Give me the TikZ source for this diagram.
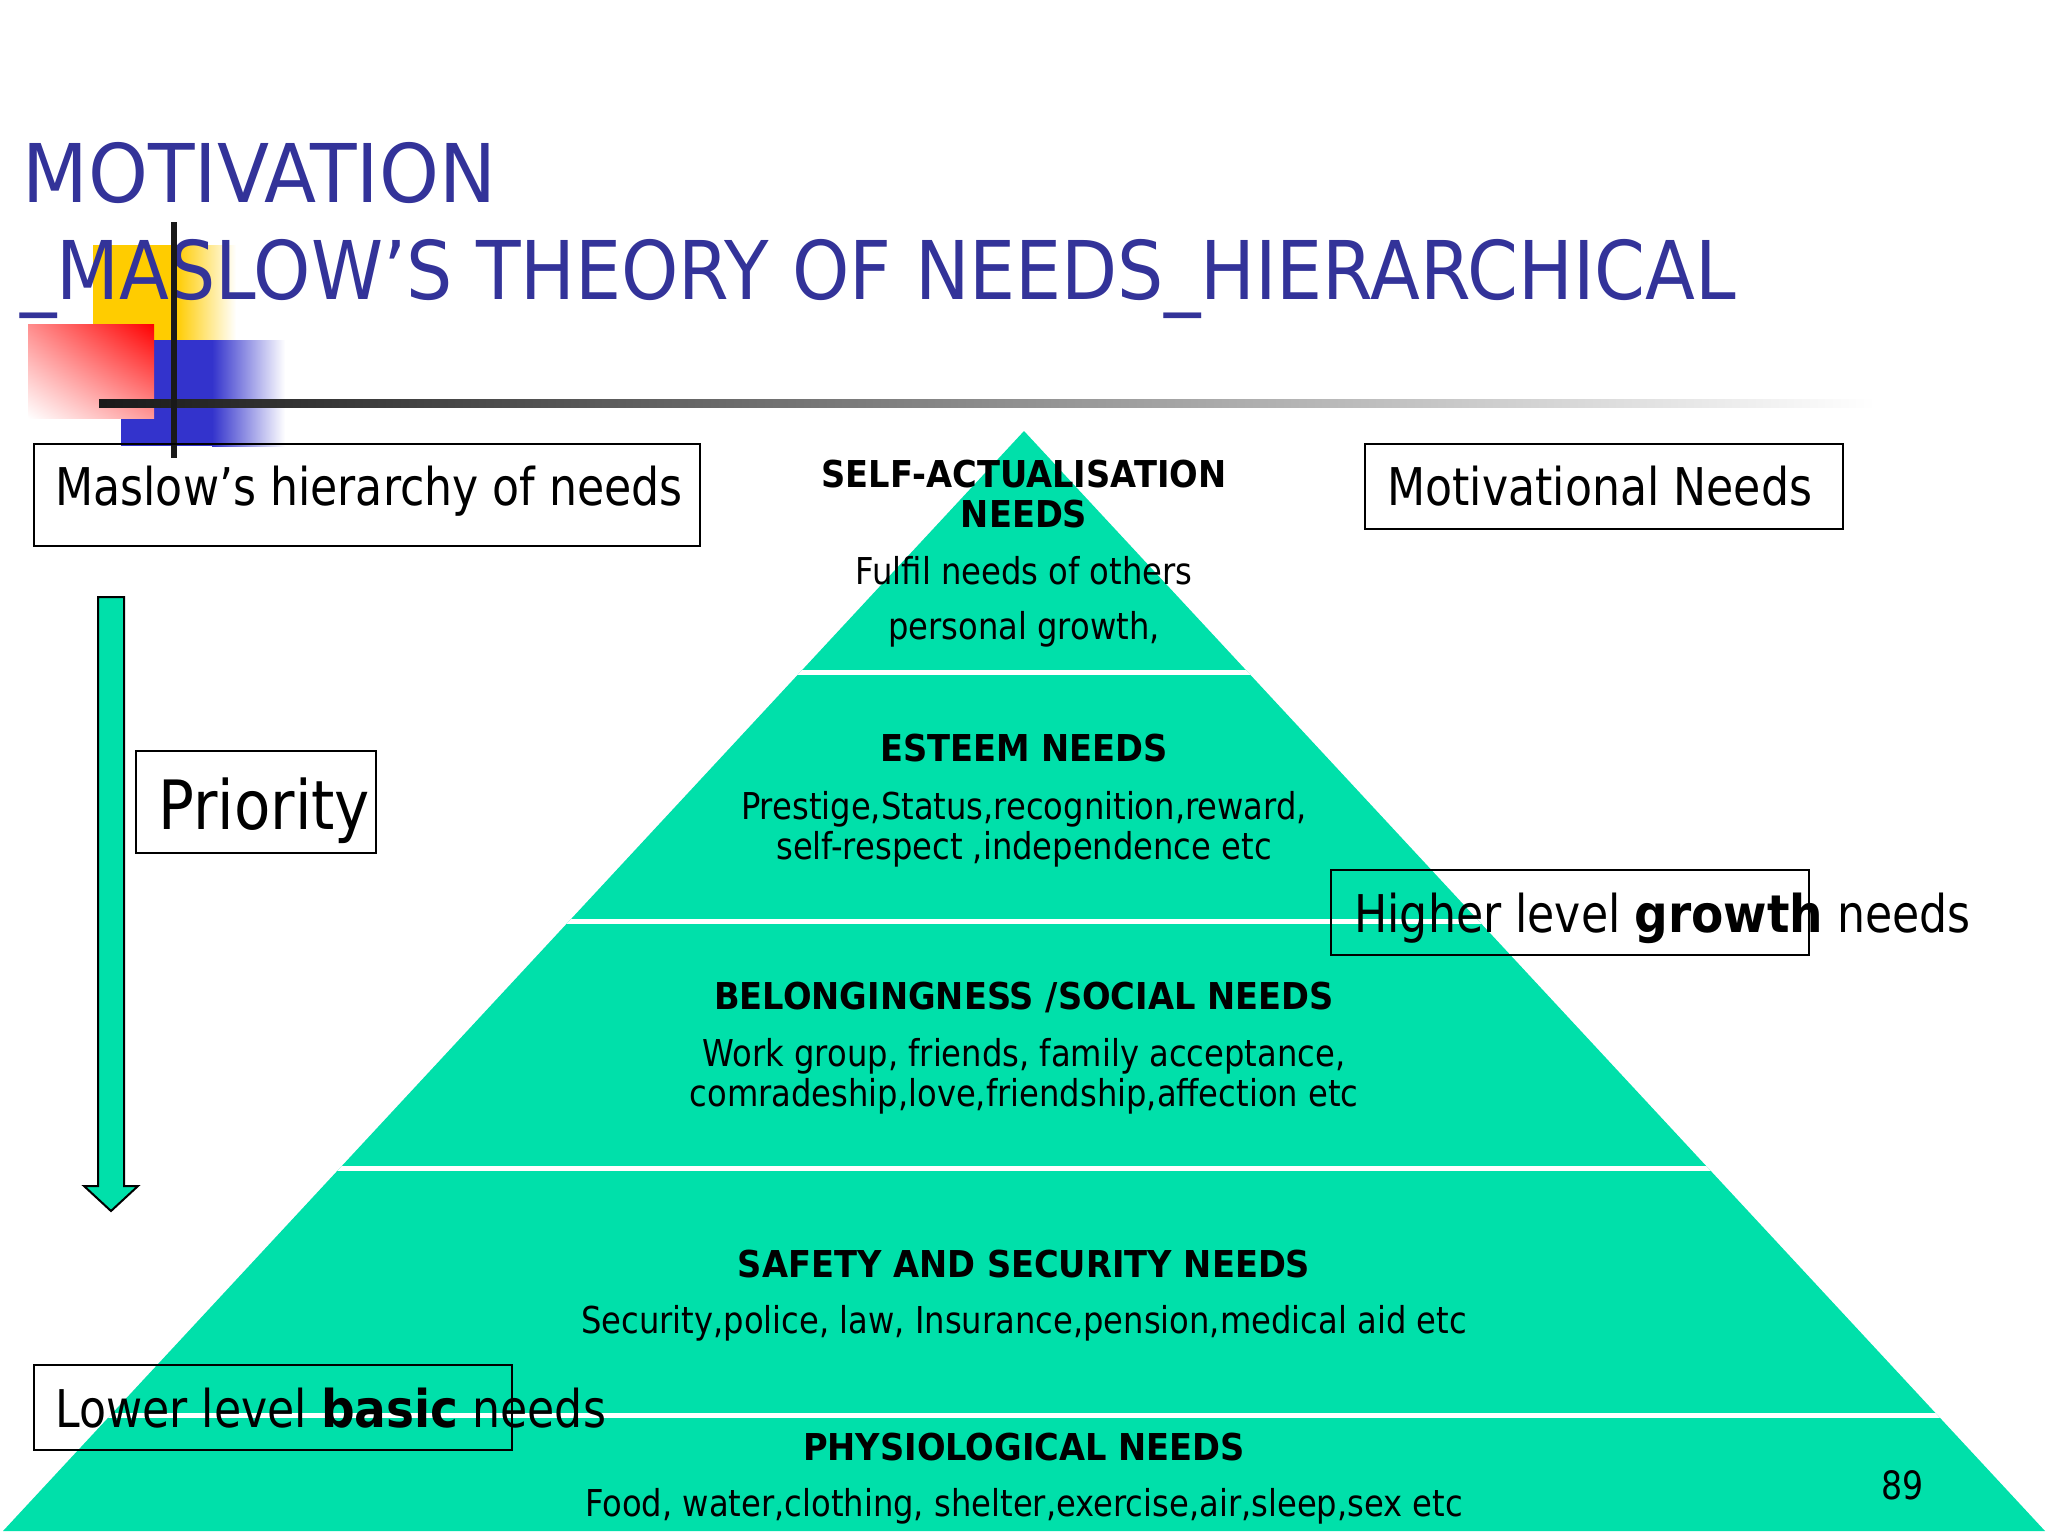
\documentclass[tikz,border=0pt]{standalone}
\usepackage{fontspec}
\usetikzlibrary{shadings}
\setmainfont{DejaVu Sans}[FakeStretch=0.85,BoldFeatures={FakeStretch=0.905}]
\newfontfamily\pyrfont{DejaVu Sans}[FakeStretch=0.87,BoldFeatures={FakeStretch=0.91}]
\newfontfamily\titlefont{DejaVu Sans}[FakeStretch=0.9]
\newfontfamily\titlefontA{DejaVu Sans}[FakeStretch=0.94]
\newfontfamily\prifont{DejaVu Sans}[FakeStretch=0.875]
\definecolor{pgreen}{RGB}{0,224,170}
\definecolor{titleblue}{RGB}{51,51,153}
\definecolor{decoyellow}{RGB}{255,204,0}
\definecolor{decoblue}{RGB}{51,51,204}
\tikzset{
  titletext/.style={font=\titlefont\fontsize{40.5}{48}\selectfont, text=titleblue, anchor=base west, inner sep=0pt},
  boxtext/.style={font=\fontsize{26}{31}\selectfont, anchor=base west, inner sep=0pt},
  framebox/.style={draw=black, line width=1pt, inner sep=0pt},
  pyrhead/.style={font=\pyrfont\bfseries\fontsize{18.5}{22}\selectfont, anchor=base, inner sep=0pt},
  pyrbody/.style={font=\pyrfont\fontsize{18.5}{22}\selectfont, anchor=base, inner sep=0pt},
  sepline/.style={draw=white, line width=2.5pt},
}
\begin{document}
\begin{tikzpicture}[x=0.5pt,y=-0.5pt]
\useasboundingbox (0,0) rectangle (2048,1536);
\fill[white] (0,0) rectangle (2048,1536);
% pyramid
\coordinate (apex) at (1024,431);
\coordinate (bl) at (3,1531);
\coordinate (br) at (2045,1531);
\fill[pgreen] (apex) -- (br) -- (bl) -- cycle;
\begin{scope}
  \clip (apex) -- (br) -- (bl) -- cycle;
  \foreach \yy in {672,921,1168,1415} {
    \draw[sepline] (0,\yy) -- (2048,\yy);
  }
\end{scope}
% decoration
\fill[decoyellow] (93,245) rectangle (177,340);
\shade[left color=decoyellow, right color=white] (176,245) rectangle (236,340);
\fill[decoblue] (121,340) rectangle (213,446);
\shade[left color=decoblue, right color=white] (212,340) rectangle (285,446);
\shade[upper left=red!45, upper right=red, lower left=white, lower right=red!40] (28,324) rectangle (154,418);
% title
\node[titletext, font=\titlefontA\fontsize{40.5}{48}\selectfont] (t1) at (22,202) {MOTIVATION};
\node[titletext] (t2) at (20,299) {\_MASLOW’S THEORY OF NEEDS\_HIERARCHICAL};
% black lines
\shade[left color=black!90, right color=white] (99,399) rectangle (1875,407);
\fill[black!90] (171,222) rectangle (177,458);
% boxes
\node[framebox, minimum width=333pt, minimum height=51pt] (mbox) at (367,495) {};
\node[boxtext] (mtext) at (55,505) {Maslow’s hierarchy of needs};
\node[framebox, minimum width=239pt, minimum height=42.5pt] (motbox) at (1604,486.5) {};
\node[boxtext] (mottext) at (1387,505) {Motivational Needs};
\node[framebox, minimum width=120pt, minimum height=51pt] (pbox) at (256,802) {};
\node[boxtext, font=\prifont\fontsize{34}{40}\selectfont] (ptext) at (158,829) {Priority};
\node[framebox, minimum width=239pt, minimum height=42.5pt] (hbox) at (1570,912.5) {};
\node[boxtext] (htext) at (1354,932) {Higher level \textbf{growth} needs};
\node[framebox, minimum width=239pt, minimum height=42.5pt] (lbox) at (273,1407.5) {};
\node[boxtext] (ltext) at (55,1427) {Lower level \textbf{basic} needs};
% priority arrow
\draw[fill=pgreen, draw=black, line width=1pt, line join=miter]
  (98,597) -- (124,597) -- (124,1186) -- (138,1186) -- (111,1211) -- (84,1186) -- (98,1186) -- cycle;
% pyramid texts
\node[pyrhead] (sa1) at (1024,487) {SELF-ACTUALISATION};
\node[pyrhead] (sa2) at (1024,527) {NEEDS};
\node[pyrbody] (sa3) at (1024,584) {Fulfil needs of others};
\node[pyrbody] (sa4) at (1024,639) {personal growth,};
\node[pyrhead] (es1) at (1024,761) {ESTEEM NEEDS};
\node[pyrbody] (es2) at (1024,819) {Prestige,Status,recognition,reward,};
\node[pyrbody] (es3) at (1024,859) {self-respect ,independence etc};
\node[pyrhead] (be1) at (1024,1009) {BELONGINGNESS /SOCIAL NEEDS};
\node[pyrbody] (be2) at (1024,1066) {Work group, friends, family acceptance,};
\node[pyrbody] (be3) at (1024,1106) {comradeship,love,friendship,affection etc};
\node[pyrhead] (sf1) at (1024,1277) {SAFETY AND SECURITY NEEDS};
\node[pyrbody] (sf2) at (1024,1333) {Security,police, law, Insurance,pension,medical aid etc};
\node[pyrhead] (ph1) at (1024,1460) {PHYSIOLOGICAL NEEDS};
\node[pyrbody] (ph2) at (1024,1516) {Food, water,clothing, shelter,exercise,air,sleep,sex etc};
% page number
\node[boxtext, font=\fontsize{19.5}{23}\selectfont] (pnum) at (1881,1499) {89};
\end{tikzpicture}
\end{document}
